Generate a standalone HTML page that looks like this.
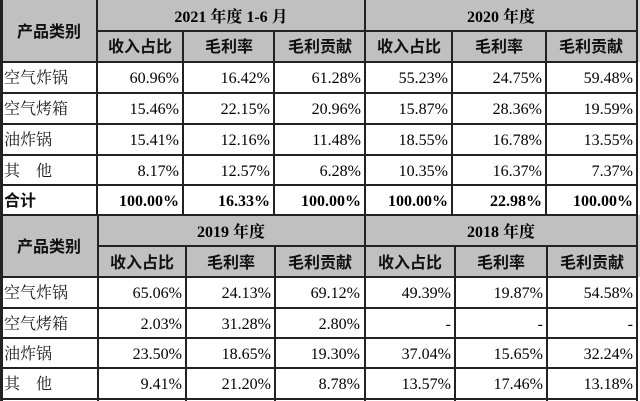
<!DOCTYPE html>
<html><head><meta charset="utf-8"><style>
html,body{margin:0;padding:0;background:#fff;width:640px;height:401px;overflow:hidden}
svg{display:block}
.t{font-family:"Liberation Serif","Noto Serif CJK SC",serif;font-size:16px;fill:#000}
.z{font-family:"Noto Serif CJK SC","Noto Serif CJK JP","WenQuanYi Zen Hei",serif;font-size:16px;fill:#1a1a1a}
.b{font-family:"Liberation Serif","Noto Serif CJK SC",serif;font-size:16px;font-weight:bold;fill:#000}
.h{font-family:"Liberation Sans","Noto Sans CJK SC",sans-serif;font-size:16px;font-weight:bold;fill:#111}
.r{text-anchor:end}
.m{text-anchor:middle}
</style></head><body>
<svg width="640" height="401" viewBox="0 0 640 401" xmlns="http://www.w3.org/2000/svg">
<rect x="0" y="0" width="640" height="62" fill="#c0c0c0"/>
<rect x="0" y="215" width="640" height="62" fill="#c0c0c0"/>
<rect x="638" y="0" width="2" height="62" fill="#d4d4d4"/>
<rect x="638" y="215" width="2" height="62" fill="#d4d4d4"/>

<g fill="#222">
<rect x="0" y="0" width="3" height="401"/>
<rect x="636" y="0" width="2" height="401"/>
<rect x="0" y="61" width="638" height="2"/>
<rect x="0" y="92" width="638" height="2"/>
<rect x="0" y="123" width="638" height="2"/>
<rect x="0" y="154" width="638" height="2"/>
<rect x="0" y="184" width="638" height="2"/>
<rect x="0" y="214" width="638" height="2"/>
<rect x="0" y="276" width="638" height="2"/>
<rect x="0" y="307" width="638" height="2"/>
<rect x="0" y="337" width="638" height="2"/>
<rect x="0" y="367" width="638" height="2"/>
<rect x="0" y="398" width="638" height="2"/>
<rect x="97" y="30" width="540" height="2"/>
<rect x="98" y="245" width="540" height="2"/>
<rect x="96" y="0" width="2" height="215"/>
<rect x="364" y="0" width="2" height="215"/>
<rect x="182" y="31" width="2" height="184"/>
<rect x="273" y="31" width="2" height="184"/>
<rect x="451" y="31" width="2" height="184"/>
<rect x="545" y="31" width="2" height="184"/>
<rect x="97" y="215" width="2" height="186"/>
<rect x="364" y="215" width="2" height="186"/>
<rect x="185" y="246" width="2" height="155"/>
<rect x="274" y="246" width="2" height="155"/>
<rect x="454" y="246" width="2" height="155"/>
<rect x="546" y="246" width="2" height="155"/>
</g>

<text class="h m" x="49" y="37">产品类别</text>
<text class="b m" x="231" y="22">2021 年度 1-6 月</text>
<text class="b m" x="501" y="22">2020 年度</text>
<text class="h m" x="140" y="52">收入占比</text>
<text class="h m" x="229" y="52">毛利率</text>
<text class="h m" x="320" y="52">毛利贡献</text>
<text class="h m" x="409" y="52">收入占比</text>
<text class="h m" x="499" y="52">毛利率</text>
<text class="h m" x="591" y="52">毛利贡献</text>

<g class="z">
<text x="4" y="83">空气炸锅</text>
<text x="4" y="114">空气烤箱</text>
<text x="4" y="145">油炸锅</text>
<text x="4" y="176">其&#8195;他</text>
</g>
<g class="t r">
<text x="179" y="83">60.96%</text><text x="270" y="83">16.42%</text><text x="361" y="83">61.28%</text><text x="448" y="83">55.23%</text><text x="542" y="83">24.75%</text><text x="633" y="83">59.48%</text>
<text x="179" y="114">15.46%</text><text x="270" y="114">22.15%</text><text x="361" y="114">20.96%</text><text x="448" y="114">15.87%</text><text x="542" y="114">28.36%</text><text x="633" y="114">19.59%</text>
<text x="179" y="145">15.41%</text><text x="270" y="145">12.16%</text><text x="361" y="145">11.48%</text><text x="448" y="145">18.55%</text><text x="542" y="145">16.78%</text><text x="633" y="145">13.55%</text>
<text x="179" y="176">8.17%</text><text x="270" y="176">12.57%</text><text x="361" y="176">6.28%</text><text x="448" y="176">10.35%</text><text x="542" y="176">16.37%</text><text x="633" y="176">7.37%</text>
</g>
<text class="h" x="4" y="206">合计</text>
<g class="b r">
<text x="179" y="206">100.00%</text><text x="270" y="206">16.33%</text><text x="361" y="206">100.00%</text><text x="448" y="206">100.00%</text><text x="542" y="206">22.98%</text><text x="633" y="206">100.00%</text>
</g>

<text class="h m" x="49" y="252">产品类别</text>
<text class="b m" x="231" y="237">2019 年度</text>
<text class="b m" x="501" y="237">2018 年度</text>
<text class="h m" x="142" y="268">收入占比</text>
<text class="h m" x="231" y="268">毛利率</text>
<text class="h m" x="320" y="268">毛利贡献</text>
<text class="h m" x="410" y="268">收入占比</text>
<text class="h m" x="501" y="268">毛利率</text>
<text class="h m" x="592" y="268">毛利贡献</text>

<g class="z">
<text x="4" y="298">空气炸锅</text>
<text x="4" y="329">空气烤箱</text>
<text x="4" y="359">油炸锅</text>
<text x="4" y="389">其&#8195;他</text>
</g>
<g class="t r">
<text x="182" y="298">65.06%</text><text x="271" y="298">24.13%</text><text x="360" y="298">69.12%</text><text x="451" y="298">49.39%</text><text x="543" y="298">19.87%</text><text x="633" y="298">54.58%</text>
<text x="182" y="329">2.03%</text><text x="271" y="329">31.28%</text><text x="360" y="329">2.80%</text><text x="451" y="329">-</text><text x="543" y="329">-</text><text x="633" y="329">-</text>
<text x="182" y="359">23.50%</text><text x="271" y="359">18.65%</text><text x="360" y="359">19.30%</text><text x="451" y="359">37.04%</text><text x="543" y="359">15.65%</text><text x="633" y="359">32.24%</text>
<text x="182" y="389">9.41%</text><text x="271" y="389">21.20%</text><text x="360" y="389">8.78%</text><text x="451" y="389">13.57%</text><text x="543" y="389">17.46%</text><text x="633" y="389">13.18%</text>
</g>
</svg>
</body></html>
